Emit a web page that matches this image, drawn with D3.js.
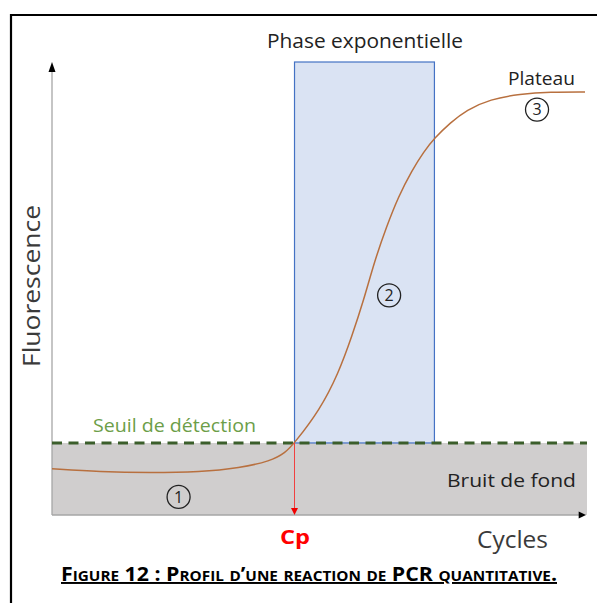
<!DOCTYPE html>
<html><head><meta charset="utf-8">
<script src="https://cdn.jsdelivr.net/npm/d3@7/dist/d3.min.js"></script>
<style>body{margin:0;background:#fff}svg{display:block}text{font-family:"Open Sans",Lato,sans-serif}</style>
</head><body><svg id="c" width="597" height="603"></svg>
<script>
// Data (cycles, fluorescence in arbitrary units)
const cycles = [0, 3.6, 7.4, 11.1, 14.1, 16.4, 17.5, 18.2, 20.1, 21.5, 22.5, 23.4, 24.2, 25.1, 26.0, 27.0, 27.9, 28.7, 29.9, 31.1, 32.9, 35.1, 37.4, 40];
const fluorescence = [10.2, 9.5, 9.3, 9.5, 10.4, 11.9, 13.7, 15.9, 23.2, 31.3, 39.4, 47.5, 56.0, 63.6, 70.3, 76.0, 80.2, 83.2, 86.6, 89.4, 91.8, 92.9, 93.4, 93.4];
const threshold = 15.9;
const cp = 18.2;
const expPhase = [18.2, 28.7];
const phaseLabels = ["1", "2", "3"];
const phasePos = [[9.5, 4], [25.3, 48.5], [36.4, 89.5]];

const svg = d3.select("#c");
const x = d3.scaleLinear().domain([0, 40]).range([52, 585]);
const y = d3.scaleLinear().domain([0, 100]).range([515, 62]);

// frame
svg.append("path").attr("d", "M11,610 V15 H600").attr("fill", "none").attr("stroke", "#000").attr("stroke-width", 2.2);

// background noise area
svg.append("rect").attr("x", x(0)).attr("y", y(threshold)).attr("width", x(40.15) - x(0)).attr("height", y(0) - y(threshold)).attr("fill", "#d0cece");

// exponential phase box
svg.append("rect").attr("x", x(expPhase[0])).attr("y", y(100)).attr("width", x(expPhase[1]) - x(expPhase[0])).attr("height", y(threshold) - y(100))
  .attr("fill", "#dae3f3").attr("stroke", "#4472c4").attr("stroke-width", 1.2);

// axes
svg.append("line").attr("x1", x(0)).attr("x2", x(0)).attr("y1", y(0)).attr("y2", y(98)).attr("stroke", "#a6a6a6").attr("stroke-width", 1.3);
svg.append("line").attr("x1", x(0)).attr("x2", x(39.6)).attr("y1", y(0)).attr("y2", y(0)).attr("stroke", "#a6a6a6").attr("stroke-width", 1.3);
svg.append("path").attr("d", `M${x(0)-3.5},${y(98)+1} L${x(0)},${y(100)} L${x(0)+3.5},${y(98)+1} Z`).attr("fill", "#000");
svg.append("path").attr("d", `M${x(39.6)-1},${y(0)-3.5} L${x(40)+1},${y(0)} L${x(39.6)-1},${y(0)+3.5} Z`).attr("fill", "#000");

// threshold dashed line
svg.append("line").attr("x1", x(0)).attr("x2", x(40.15)).attr("y1", y(threshold)).attr("y2", y(threshold))
  .attr("stroke", "#3b5e2b").attr("stroke-width", 3).attr("stroke-dasharray", "10,6.5");

// curve
const pts = cycles.map((c, i) => [c, fluorescence[i]]);
svg.append("path").datum(pts).attr("d", d3.line().x(d => x(d[0])).y(d => y(d[1])).curve(d3.curveBasis))
  .attr("fill", "none").attr("stroke", "#b8703f").attr("stroke-width", 1.5);

// Cp arrow
svg.append("line").attr("x1", x(cp)).attr("x2", x(cp)).attr("y1", y(threshold)).attr("y2", y(0) - 6).attr("stroke", "#f04040").attr("stroke-width", 1);
svg.append("path").attr("d", `M${x(cp)-3.5},${y(0)-7} L${x(cp)},${y(0)} L${x(cp)+3.5},${y(0)-7} Z`).attr("fill", "#f00000");

// labels
function label(t, xx, yy, size, color, len, opts = {}) {
  const el = svg.append("text").attr("x", xx).attr("y", yy).attr("font-size", size).attr("fill", color)
    .attr("textLength", len).attr("lengthAdjust", "spacingAndGlyphs").text(t);
  if (opts.weight) el.attr("font-weight", opts.weight);
  if (opts.transform) el.attr("transform", opts.transform);
  return el;
}
label("Phase exponentielle", 267, 48, 19.5, "#222", 196);
label("Plateau", 508, 85, 17.5, "#222", 67);
label("Seuil de détection", 93, 432, 17.5, "#6c9e48", 163);
label("Bruit de fond", 447, 487, 18.5, "#222", 129);
label("Cycles", 477, 548, 23, "#3a3a3a", 71);
label("Fluorescence", -367, 40, 24, "#3a3a3a", 162, {transform: "rotate(-90)"});
label("Cp", 280, 544, 19, "#ff0000", 30, {weight: "bold"});

// phase markers
const pg = svg.selectAll("g.ph").data(phaseLabels).join("g").attr("class", "ph")
  .attr("transform", (d, i) => `translate(${x(phasePos[i][0])},${y(phasePos[i][1])})`);
pg.append("circle").attr("r", 11.5).attr("fill", "none").attr("stroke", "#222").attr("stroke-width", 1.3);
pg.append("text").attr("text-anchor", "middle").attr("dy", "0.36em").attr("font-size", 16).attr("fill", "#222").text(d => d);

// caption
svg.append("text").attr("x", 61).attr("y", 581).attr("font-size", 19.5).attr("font-weight", "bold")
  .attr("font-variant", "small-caps").attr("text-decoration", "underline").attr("fill", "#000")
  .attr("textLength", 496).attr("lengthAdjust", "spacingAndGlyphs")
  .text("Figure 12 : Profil d’une reaction de PCR quantitative.");
</script></body></html>
